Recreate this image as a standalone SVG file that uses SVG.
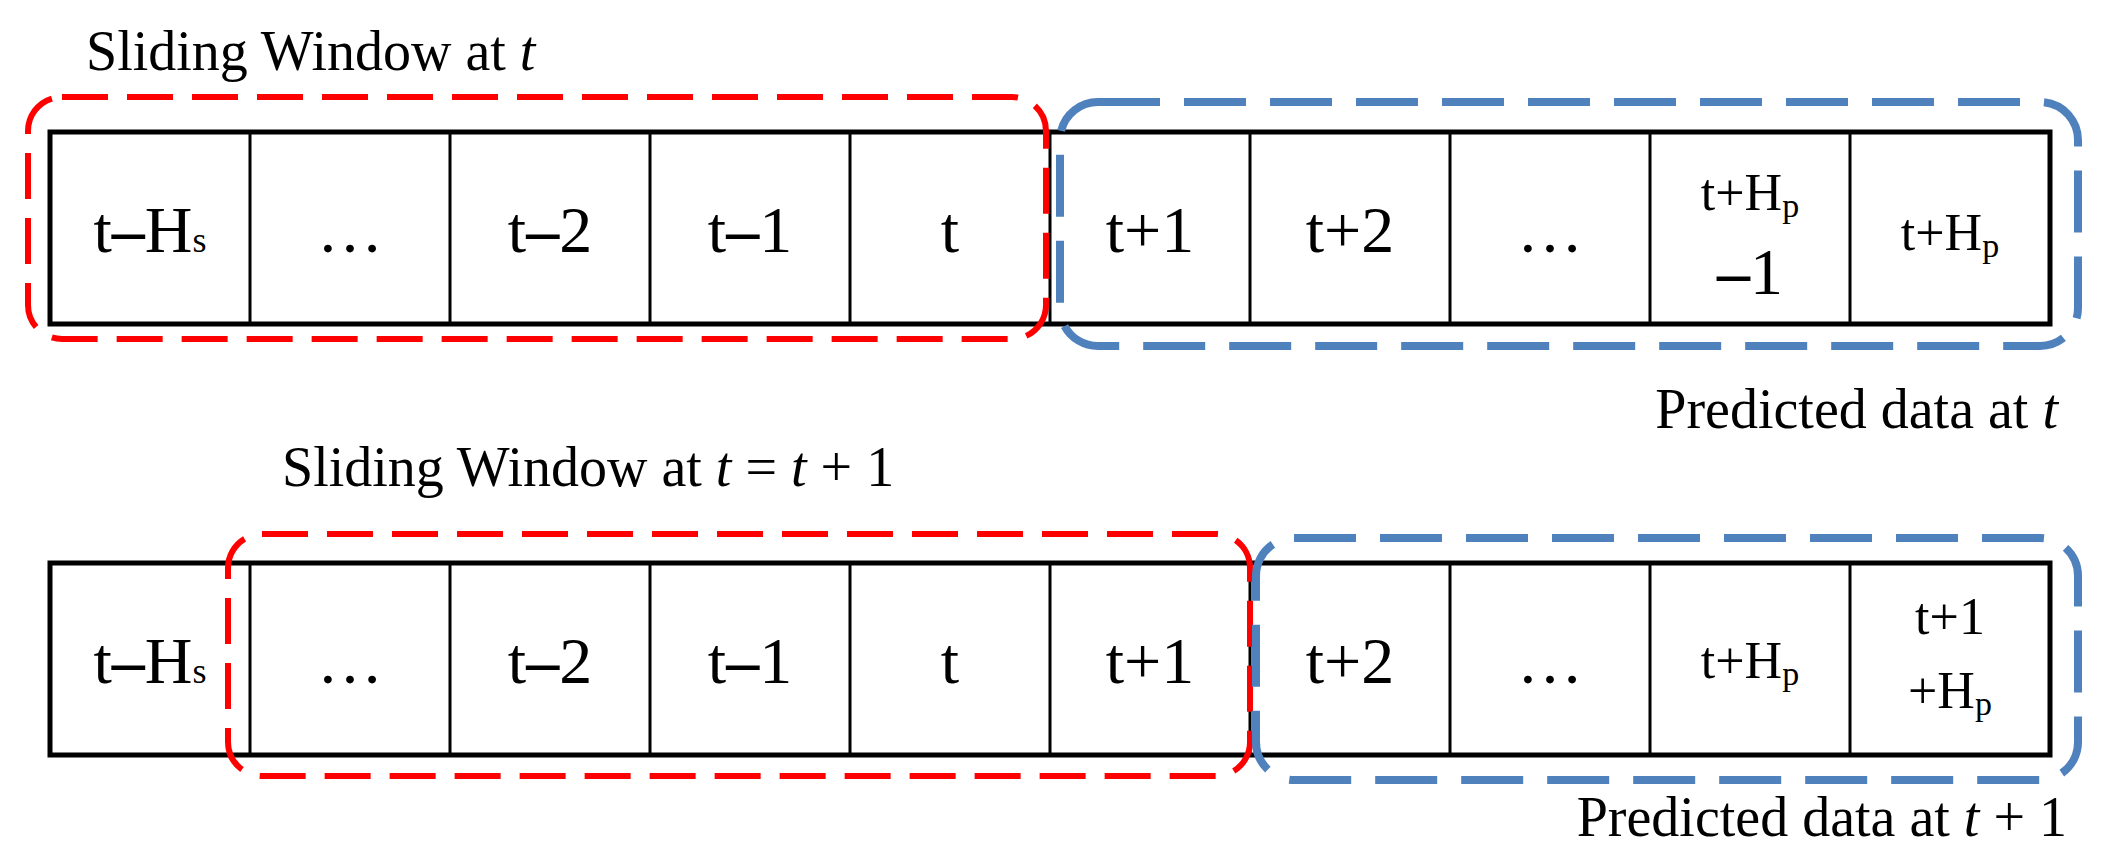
<svg xmlns="http://www.w3.org/2000/svg" width="2104" height="854" viewBox="0 0 2104 854">
<style>
text{font-family:"Liberation Serif","Times New Roman",serif;fill:#000}
.c{font-size:66px;text-anchor:middle}
.s{font-size:52px;text-anchor:middle}
.t{font-size:56px}
.i{font-style:italic}
.row{fill:none;stroke:#000;stroke-width:5}
.div{stroke:#000;stroke-width:3}
.red{fill:none;stroke:#ff0000;stroke-width:6;stroke-dasharray:46 19}
.blue{fill:none;stroke:#4f81bd;stroke-width:8;stroke-dasharray:62 24}
</style>
<rect width="2104" height="854" fill="#fff"/>
<g id="titles">
<text class="t" x="86" y="70">Sliding Window at <tspan class="i">t</tspan></text>
<text class="t" x="282" y="486">Sliding Window at <tspan class="i">t</tspan>  =  <tspan class="i">t</tspan>  +  1</text>
<text class="t" x="2058" y="428" text-anchor="end">Predicted data at <tspan class="i">t</tspan></text>
<text class="t" x="2067" y="836" text-anchor="end">Predicted data at <tspan class="i">t</tspan> + 1</text>
</g>
<g id="row1">
<rect class="row" x="50" y="132" width="2000" height="192"/>
<path class="div" d="M250 132V324M450 132V324M650 132V324M850 132V324M1050 132V324M1250 132V324M1450 132V324M1650 132V324M1850 132V324"/>
<text class="c" x="150" y="252">t<tspan font-weight="bold">–</tspan>H<tspan font-size="36">s</tspan></text>
<text class="c" x="350" y="252">…</text>
<text class="c" x="550" y="252">t<tspan font-weight="bold">–</tspan>2</text>
<text class="c" x="750" y="252">t<tspan font-weight="bold">–</tspan>1</text>
<text class="c" x="950" y="252">t</text>
<text class="c" x="1150" y="252">t+1</text>
<text class="c" x="1350" y="252">t+2</text>
<text class="c" x="1550" y="252">…</text>
<text class="s" x="1750" y="210">t+H<tspan font-size="34" dy="7">p</tspan></text>
<text class="c" x="1750" y="294"><tspan font-weight="bold">–</tspan>1</text>
<text class="s" x="1950" y="250">t+H<tspan font-size="34" dy="7">p</tspan></text>
</g>
<g id="row2">
<rect class="row" x="50" y="563" width="2000" height="192"/>
<path class="div" d="M250 563V755M450 563V755M650 563V755M850 563V755M1050 563V755M1250 563V755M1450 563V755M1650 563V755M1850 563V755"/>
<text class="c" x="150" y="683">t<tspan font-weight="bold">–</tspan>H<tspan font-size="36">s</tspan></text>
<text class="c" x="350" y="683">…</text>
<text class="c" x="550" y="683">t<tspan font-weight="bold">–</tspan>2</text>
<text class="c" x="750" y="683">t<tspan font-weight="bold">–</tspan>1</text>
<text class="c" x="950" y="683">t</text>
<text class="c" x="1150" y="683">t+1</text>
<text class="c" x="1350" y="683">t+2</text>
<text class="c" x="1550" y="683">…</text>
<text class="s" x="1750" y="678">t+H<tspan font-size="34" dy="7">p</tspan></text>
<text class="s" x="1950" y="634">t+1</text>
<text class="s" x="1950" y="708">+H<tspan font-size="34" dy="7">p</tspan></text>
</g>
<g id="windows">
<rect class="red" x="28" y="97" width="1018" height="242" rx="34"/>
<rect class="blue" x="1060" y="102" width="1018" height="244" rx="38"/>
<rect class="red" x="228" y="534" width="1022" height="242" rx="34"/>
<rect class="blue" x="1256" y="538" width="822" height="242" rx="38"/>
</g>
</svg>
